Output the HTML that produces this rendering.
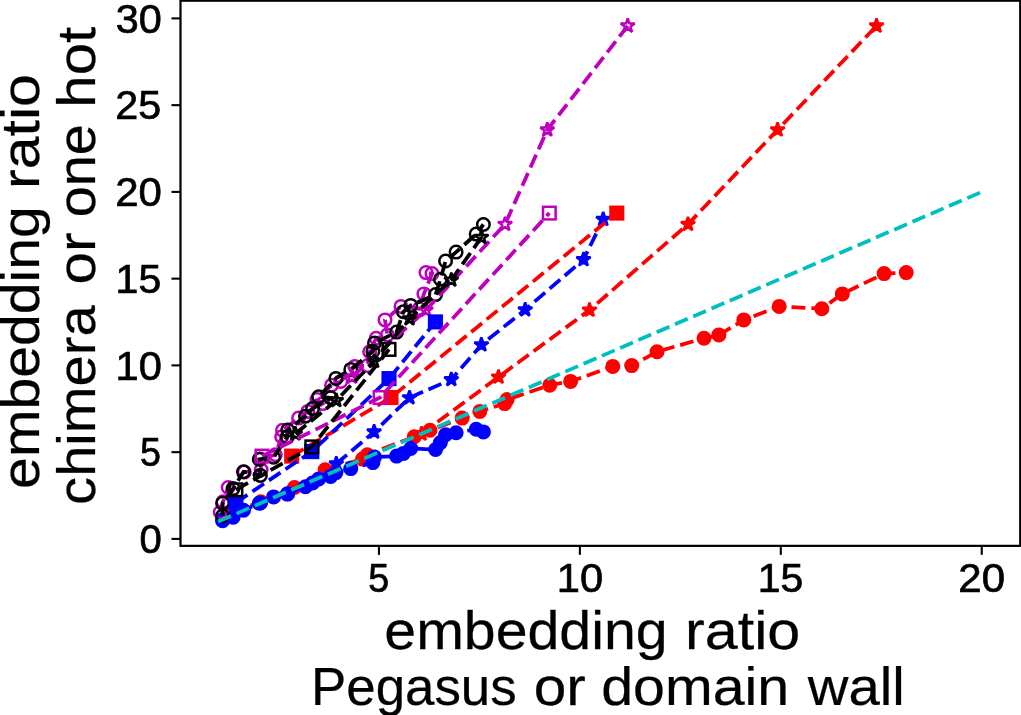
<!DOCTYPE html>
<html><head><meta charset="utf-8"><title>embedding ratio</title>
<style>
html,body{margin:0;padding:0;background:#fff;}
svg{display:block;}
text{font-family:"Liberation Sans",sans-serif;fill:#000;stroke:#000;}
</style></head>
<body>
<svg width="1021" height="715" viewBox="0 0 1021 715">
<defs><clipPath id="cp"><rect x="180.5" y="0.7" width="839.7" height="545.15"/></clipPath></defs>
<rect width="1021" height="715" fill="#fff"/>
<g clip-path="url(#cp)">
<path d="M231.9 512.2 L260.8 501.8 L294.5 487.5 L333.5 472.1 L325.1 469.8 L362.5 459.1 L367.3 454.8 L414.3 436.7 L430.0 430.3 L462.1 418.1 L479.8 411.4 L504.7 403.6 L507.1 399.6 L549.7 385.2 L570.6 381.4 L612.8 366.4 L631.7 365.6 L657.0 351.7 L704.0 338.3 L718.9 334.9 L743.8 319.9 L779.2 306.4 L821.8 308.7 L842.3 293.9 L884.1 273.6 L906.2 272.6" fill="none" stroke="#ff0000" stroke-width="3.76" stroke-dasharray="13.9 6.0"/>
<g fill="#ff0000" stroke="#ff0000" stroke-width="2.5"><circle cx="231.9" cy="512.2" r="6.25"/><circle cx="260.8" cy="501.8" r="6.25"/><circle cx="294.5" cy="487.5" r="6.25"/><circle cx="333.5" cy="472.1" r="6.25"/><circle cx="325.1" cy="469.8" r="6.25"/><circle cx="362.5" cy="459.1" r="6.25"/><circle cx="367.3" cy="454.8" r="6.25"/><circle cx="414.3" cy="436.7" r="6.25"/><circle cx="430.0" cy="430.3" r="6.25"/><circle cx="462.1" cy="418.1" r="6.25"/><circle cx="479.8" cy="411.4" r="6.25"/><circle cx="504.7" cy="403.6" r="6.25"/><circle cx="507.1" cy="399.6" r="6.25"/><circle cx="549.7" cy="385.2" r="6.25"/><circle cx="570.6" cy="381.4" r="6.25"/><circle cx="612.8" cy="366.4" r="6.25"/><circle cx="631.7" cy="365.6" r="6.25"/><circle cx="657.0" cy="351.7" r="6.25"/><circle cx="704.0" cy="338.3" r="6.25"/><circle cx="718.9" cy="334.9" r="6.25"/><circle cx="743.8" cy="319.9" r="6.25"/><circle cx="779.2" cy="306.4" r="6.25"/><circle cx="821.8" cy="308.7" r="6.25"/><circle cx="842.3" cy="293.9" r="6.25"/><circle cx="884.1" cy="273.6" r="6.25"/><circle cx="906.2" cy="272.6" r="6.25"/></g>
<path d="M222.6 520.7 L222.6 519.5 L233.1 517.2 L243.5 510.3 L260.4 503.0 L259.2 503.3 L273.6 496.9 L287.3 494.1 L287.7 493.8 L305.4 486.8 L312.6 482.9 L330.7 476.4 L318.7 478.9 L335.9 472.6 L350.8 468.6 L372.9 462.6 L374.5 457.0 L396.6 456.1 L403.4 453.4 L410.7 448.5 L435.6 449.5 L440.4 442.6 L445.6 434.8 L456.1 432.7 L476.2 429.2 L483.4 431.9" fill="none" stroke="#0000ff" stroke-width="3.76" stroke-dasharray="13.9 6.0"/>
<g fill="#0000ff" stroke="#0000ff" stroke-width="2.5"><circle cx="222.6" cy="520.7" r="6.25"/><circle cx="222.6" cy="519.5" r="6.25"/><circle cx="233.1" cy="517.2" r="6.25"/><circle cx="243.5" cy="510.3" r="6.25"/><circle cx="260.4" cy="503.0" r="6.25"/><circle cx="259.2" cy="503.3" r="6.25"/><circle cx="273.6" cy="496.9" r="6.25"/><circle cx="287.3" cy="494.1" r="6.25"/><circle cx="287.7" cy="493.8" r="6.25"/><circle cx="305.4" cy="486.8" r="6.25"/><circle cx="312.6" cy="482.9" r="6.25"/><circle cx="330.7" cy="476.4" r="6.25"/><circle cx="318.7" cy="478.9" r="6.25"/><circle cx="335.9" cy="472.6" r="6.25"/><circle cx="350.8" cy="468.6" r="6.25"/><circle cx="372.9" cy="462.6" r="6.25"/><circle cx="374.5" cy="457.0" r="6.25"/><circle cx="396.6" cy="456.1" r="6.25"/><circle cx="403.4" cy="453.4" r="6.25"/><circle cx="410.7" cy="448.5" r="6.25"/><circle cx="435.6" cy="449.5" r="6.25"/><circle cx="440.4" cy="442.6" r="6.25"/><circle cx="445.6" cy="434.8" r="6.25"/><circle cx="456.1" cy="432.7" r="6.25"/><circle cx="476.2" cy="429.2" r="6.25"/><circle cx="483.4" cy="431.9" r="6.25"/></g>
<path d="M220.2 512.2 L223.0 501.8 L228.2 487.5 L244.3 472.1 L261.2 469.8 L260.4 459.1 L275.3 454.8 L281.7 436.7 L282.5 430.3 L298.6 418.1 L307.8 411.4 L322.7 403.6 L317.0 399.6 L331.5 385.2 L340.8 381.4 L354.8 366.4 L367.7 365.6 L369.7 351.7 L376.1 338.3 L387.4 334.9 L385.0 319.9 L401.0 306.4 L419.1 308.7 L423.9 293.9 L432.0 273.6 L426.0 272.6" fill="none" stroke="#bf00bf" stroke-width="3.76" stroke-dasharray="13.9 6.0"/>
<g fill="none" stroke="#bf00bf" stroke-width="2.5"><circle cx="220.2" cy="512.2" r="6.25"/><circle cx="223.0" cy="501.8" r="6.25"/><circle cx="228.2" cy="487.5" r="6.25"/><circle cx="244.3" cy="472.1" r="6.25"/><circle cx="261.2" cy="469.8" r="6.25"/><circle cx="260.4" cy="459.1" r="6.25"/><circle cx="275.3" cy="454.8" r="6.25"/><circle cx="281.7" cy="436.7" r="6.25"/><circle cx="282.5" cy="430.3" r="6.25"/><circle cx="298.6" cy="418.1" r="6.25"/><circle cx="307.8" cy="411.4" r="6.25"/><circle cx="322.7" cy="403.6" r="6.25"/><circle cx="317.0" cy="399.6" r="6.25"/><circle cx="331.5" cy="385.2" r="6.25"/><circle cx="340.8" cy="381.4" r="6.25"/><circle cx="354.8" cy="366.4" r="6.25"/><circle cx="367.7" cy="365.6" r="6.25"/><circle cx="369.7" cy="351.7" r="6.25"/><circle cx="376.1" cy="338.3" r="6.25"/><circle cx="387.4" cy="334.9" r="6.25"/><circle cx="385.0" cy="319.9" r="6.25"/><circle cx="401.0" cy="306.4" r="6.25"/><circle cx="419.1" cy="308.7" r="6.25"/><circle cx="423.9" cy="293.9" r="6.25"/><circle cx="432.0" cy="273.6" r="6.25"/><circle cx="426.0" cy="272.6" r="6.25"/></g>
<path d="M222.6 515.7 L222.6 503.2 L233.1 488.6 L243.5 471.8 L260.4 475.4 L259.2 459.3 L273.6 457.2 L287.3 436.9 L287.7 430.1 L305.4 416.2 L312.6 408.6 L330.7 397.8 L318.7 396.8 L335.9 378.4 L350.8 369.4 L372.9 351.2 L374.5 343.0 L396.6 332.1 L403.4 311.8 L410.7 305.4 L435.6 294.6 L440.4 279.3 L445.6 261.0 L456.1 252.1 L476.2 234.1 L483.4 224.5" fill="none" stroke="#000000" stroke-width="3.76" stroke-dasharray="13.9 6.0"/>
<g fill="none" stroke="#000000" stroke-width="2.5"><circle cx="222.6" cy="515.7" r="6.25"/><circle cx="222.6" cy="503.2" r="6.25"/><circle cx="233.1" cy="488.6" r="6.25"/><circle cx="243.5" cy="471.8" r="6.25"/><circle cx="260.4" cy="475.4" r="6.25"/><circle cx="259.2" cy="459.3" r="6.25"/><circle cx="273.6" cy="457.2" r="6.25"/><circle cx="287.3" cy="436.9" r="6.25"/><circle cx="287.7" cy="430.1" r="6.25"/><circle cx="305.4" cy="416.2" r="6.25"/><circle cx="312.6" cy="408.6" r="6.25"/><circle cx="330.7" cy="397.8" r="6.25"/><circle cx="318.7" cy="396.8" r="6.25"/><circle cx="335.9" cy="378.4" r="6.25"/><circle cx="350.8" cy="369.4" r="6.25"/><circle cx="372.9" cy="351.2" r="6.25"/><circle cx="374.5" cy="343.0" r="6.25"/><circle cx="396.6" cy="332.1" r="6.25"/><circle cx="403.4" cy="311.8" r="6.25"/><circle cx="410.7" cy="305.4" r="6.25"/><circle cx="435.6" cy="294.6" r="6.25"/><circle cx="440.4" cy="279.3" r="6.25"/><circle cx="445.6" cy="261.0" r="6.25"/><circle cx="456.1" cy="252.1" r="6.25"/><circle cx="476.2" cy="234.1" r="6.25"/><circle cx="483.4" cy="224.5" r="6.25"/></g>
<path d="M421.5 433.9 L498.5 377.0 L589.5 310.1 L688.0 224.2 L777.6 129.8 L876.5 25.9" fill="none" stroke="#ff0000" stroke-width="3.76" stroke-dasharray="13.9 6.0"/>
<g fill="#ff0000" stroke="#ff0000" stroke-width="2.5"><path transform="translate(421.5 433.9)" d="M0.00 -7.40 L-1.66 -2.29 L-7.04 -2.29 L-2.69 0.87 L-4.35 5.99 L-0.00 2.83 L4.35 5.99 L2.69 0.87 L7.04 -2.29 L1.66 -2.29Z" stroke-linejoin="bevel"/><path transform="translate(498.5 377.0)" d="M0.00 -7.40 L-1.66 -2.29 L-7.04 -2.29 L-2.69 0.87 L-4.35 5.99 L-0.00 2.83 L4.35 5.99 L2.69 0.87 L7.04 -2.29 L1.66 -2.29Z" stroke-linejoin="bevel"/><path transform="translate(589.5 310.1)" d="M0.00 -7.40 L-1.66 -2.29 L-7.04 -2.29 L-2.69 0.87 L-4.35 5.99 L-0.00 2.83 L4.35 5.99 L2.69 0.87 L7.04 -2.29 L1.66 -2.29Z" stroke-linejoin="bevel"/><path transform="translate(688.0 224.2)" d="M0.00 -7.40 L-1.66 -2.29 L-7.04 -2.29 L-2.69 0.87 L-4.35 5.99 L-0.00 2.83 L4.35 5.99 L2.69 0.87 L7.04 -2.29 L1.66 -2.29Z" stroke-linejoin="bevel"/><path transform="translate(777.6 129.8)" d="M0.00 -7.40 L-1.66 -2.29 L-7.04 -2.29 L-2.69 0.87 L-4.35 5.99 L-0.00 2.83 L4.35 5.99 L2.69 0.87 L7.04 -2.29 L1.66 -2.29Z" stroke-linejoin="bevel"/><path transform="translate(876.5 25.9)" d="M0.00 -7.40 L-1.66 -2.29 L-7.04 -2.29 L-2.69 0.87 L-4.35 5.99 L-0.00 2.83 L4.35 5.99 L2.69 0.87 L7.04 -2.29 L1.66 -2.29Z" stroke-linejoin="bevel"/></g>
<path d="M336.3 463.8 L374.1 431.9 L409.5 397.7 L451.3 379.5 L481.4 344.8 L525.2 309.7 L583.5 259.6 L603.2 219.3" fill="none" stroke="#0000ff" stroke-width="3.76" stroke-dasharray="13.9 6.0"/>
<g fill="#0000ff" stroke="#0000ff" stroke-width="2.5"><path transform="translate(336.3 463.8)" d="M0.00 -7.40 L-1.66 -2.29 L-7.04 -2.29 L-2.69 0.87 L-4.35 5.99 L-0.00 2.83 L4.35 5.99 L2.69 0.87 L7.04 -2.29 L1.66 -2.29Z" stroke-linejoin="bevel"/><path transform="translate(374.1 431.9)" d="M0.00 -7.40 L-1.66 -2.29 L-7.04 -2.29 L-2.69 0.87 L-4.35 5.99 L-0.00 2.83 L4.35 5.99 L2.69 0.87 L7.04 -2.29 L1.66 -2.29Z" stroke-linejoin="bevel"/><path transform="translate(409.5 397.7)" d="M0.00 -7.40 L-1.66 -2.29 L-7.04 -2.29 L-2.69 0.87 L-4.35 5.99 L-0.00 2.83 L4.35 5.99 L2.69 0.87 L7.04 -2.29 L1.66 -2.29Z" stroke-linejoin="bevel"/><path transform="translate(451.3 379.5)" d="M0.00 -7.40 L-1.66 -2.29 L-7.04 -2.29 L-2.69 0.87 L-4.35 5.99 L-0.00 2.83 L4.35 5.99 L2.69 0.87 L7.04 -2.29 L1.66 -2.29Z" stroke-linejoin="bevel"/><path transform="translate(481.4 344.8)" d="M0.00 -7.40 L-1.66 -2.29 L-7.04 -2.29 L-2.69 0.87 L-4.35 5.99 L-0.00 2.83 L4.35 5.99 L2.69 0.87 L7.04 -2.29 L1.66 -2.29Z" stroke-linejoin="bevel"/><path transform="translate(525.2 309.7)" d="M0.00 -7.40 L-1.66 -2.29 L-7.04 -2.29 L-2.69 0.87 L-4.35 5.99 L-0.00 2.83 L4.35 5.99 L2.69 0.87 L7.04 -2.29 L1.66 -2.29Z" stroke-linejoin="bevel"/><path transform="translate(583.5 259.6)" d="M0.00 -7.40 L-1.66 -2.29 L-7.04 -2.29 L-2.69 0.87 L-4.35 5.99 L-0.00 2.83 L4.35 5.99 L2.69 0.87 L7.04 -2.29 L1.66 -2.29Z" stroke-linejoin="bevel"/><path transform="translate(603.2 219.3)" d="M0.00 -7.40 L-1.66 -2.29 L-7.04 -2.29 L-2.69 0.87 L-4.35 5.99 L-0.00 2.83 L4.35 5.99 L2.69 0.87 L7.04 -2.29 L1.66 -2.29Z" stroke-linejoin="bevel"/></g>
<path d="M352.0 377.0 L426.0 310.1 L505.1 224.2 L547.3 129.8 L627.7 25.9" fill="none" stroke="#bf00bf" stroke-width="3.76" stroke-dasharray="13.9 6.0"/>
<g fill="none" stroke="#bf00bf" stroke-width="2.5"><path transform="translate(352.0 377.0)" d="M0.00 -7.40 L-1.66 -2.29 L-7.04 -2.29 L-2.69 0.87 L-4.35 5.99 L-0.00 2.83 L4.35 5.99 L2.69 0.87 L7.04 -2.29 L1.66 -2.29Z" stroke-linejoin="bevel"/><path transform="translate(426.0 310.1)" d="M0.00 -7.40 L-1.66 -2.29 L-7.04 -2.29 L-2.69 0.87 L-4.35 5.99 L-0.00 2.83 L4.35 5.99 L2.69 0.87 L7.04 -2.29 L1.66 -2.29Z" stroke-linejoin="bevel"/><path transform="translate(505.1 224.2)" d="M0.00 -7.40 L-1.66 -2.29 L-7.04 -2.29 L-2.69 0.87 L-4.35 5.99 L-0.00 2.83 L4.35 5.99 L2.69 0.87 L7.04 -2.29 L1.66 -2.29Z" stroke-linejoin="bevel"/><path transform="translate(547.3 129.8)" d="M0.00 -7.40 L-1.66 -2.29 L-7.04 -2.29 L-2.69 0.87 L-4.35 5.99 L-0.00 2.83 L4.35 5.99 L2.69 0.87 L7.04 -2.29 L1.66 -2.29Z" stroke-linejoin="bevel"/><path transform="translate(627.7 25.9)" d="M0.00 -7.40 L-1.66 -2.29 L-7.04 -2.29 L-2.69 0.87 L-4.35 5.99 L-0.00 2.83 L4.35 5.99 L2.69 0.87 L7.04 -2.29 L1.66 -2.29Z" stroke-linejoin="bevel"/></g>
<path d="M295.3 433.8 L336.3 400.5 L374.1 361.2 L409.5 318.7 L451.3 280.0 L481.4 237.4" fill="none" stroke="#000000" stroke-width="3.76" stroke-dasharray="13.9 6.0"/>
<g fill="none" stroke="#000000" stroke-width="2.5"><path transform="translate(295.3 433.8)" d="M0.00 -7.40 L-1.66 -2.29 L-7.04 -2.29 L-2.69 0.87 L-4.35 5.99 L-0.00 2.83 L4.35 5.99 L2.69 0.87 L7.04 -2.29 L1.66 -2.29Z" stroke-linejoin="bevel"/><path transform="translate(336.3 400.5)" d="M0.00 -7.40 L-1.66 -2.29 L-7.04 -2.29 L-2.69 0.87 L-4.35 5.99 L-0.00 2.83 L4.35 5.99 L2.69 0.87 L7.04 -2.29 L1.66 -2.29Z" stroke-linejoin="bevel"/><path transform="translate(374.1 361.2)" d="M0.00 -7.40 L-1.66 -2.29 L-7.04 -2.29 L-2.69 0.87 L-4.35 5.99 L-0.00 2.83 L4.35 5.99 L2.69 0.87 L7.04 -2.29 L1.66 -2.29Z" stroke-linejoin="bevel"/><path transform="translate(409.5 318.7)" d="M0.00 -7.40 L-1.66 -2.29 L-7.04 -2.29 L-2.69 0.87 L-4.35 5.99 L-0.00 2.83 L4.35 5.99 L2.69 0.87 L7.04 -2.29 L1.66 -2.29Z" stroke-linejoin="bevel"/><path transform="translate(451.3 280.0)" d="M0.00 -7.40 L-1.66 -2.29 L-7.04 -2.29 L-2.69 0.87 L-4.35 5.99 L-0.00 2.83 L4.35 5.99 L2.69 0.87 L7.04 -2.29 L1.66 -2.29Z" stroke-linejoin="bevel"/><path transform="translate(481.4 237.4)" d="M0.00 -7.40 L-1.66 -2.29 L-7.04 -2.29 L-2.69 0.87 L-4.35 5.99 L-0.00 2.83 L4.35 5.99 L2.69 0.87 L7.04 -2.29 L1.66 -2.29Z" stroke-linejoin="bevel"/></g>
<path d="M291.7 456.1 L391.0 397.5 L616.8 213.1" fill="none" stroke="#ff0000" stroke-width="3.76" stroke-dasharray="13.9 6.0"/>
<g fill="#ff0000" stroke="#ff0000" stroke-width="2.5"><rect x="285.4" y="449.8" width="12.6" height="12.6"/><rect x="384.7" y="391.2" width="12.6" height="12.6"/><rect x="610.5" y="206.8" width="12.6" height="12.6"/></g>
<path d="M235.9 502.6 L311.8 451.6 L389.0 378.6 L435.4 321.9" fill="none" stroke="#0000ff" stroke-width="3.76" stroke-dasharray="13.9 6.0"/>
<g fill="#0000ff" stroke="#0000ff" stroke-width="2.5"><rect x="229.6" y="496.3" width="12.6" height="12.6"/><rect x="305.5" y="445.3" width="12.6" height="12.6"/><rect x="382.7" y="372.3" width="12.6" height="12.6"/><rect x="429.1" y="315.6" width="12.6" height="12.6"/></g>
<path d="M262.0 456.1 L380.1 397.5 L549.3 213.1" fill="none" stroke="#bf00bf" stroke-width="3.76" stroke-dasharray="13.9 6.0"/>
<g fill="none" stroke="#bf00bf" stroke-width="2.5"><rect x="255.7" y="449.8" width="12.6" height="12.6"/><rect x="373.8" y="391.2" width="12.6" height="12.6"/><rect x="543.0" y="206.8" width="12.6" height="12.6"/></g>
<path d="M235.9 489.8 L311.8 446.9 L389.0 349.4" fill="none" stroke="#000000" stroke-width="3.76" stroke-dasharray="13.9 6.0"/>
<g fill="none" stroke="#000000" stroke-width="2.5"><rect x="229.6" y="483.5" width="12.6" height="12.6"/><rect x="305.5" y="440.6" width="12.6" height="12.6"/><rect x="382.7" y="343.1" width="12.6" height="12.6"/></g>
<path d="M218.2 521.5 L981.7 191.9" fill="none" stroke="#00bfbf" stroke-width="3.76" stroke-dasharray="13.9 6.0"/>
</g>
<g>
<rect x="180.5" y="0.7" width="839.7" height="545.15" fill="none" stroke="#000" stroke-width="2.2"/>
<line x1="378.94" y1="545.85" x2="378.94" y2="554.85" stroke="#000" stroke-width="2.1"/>
<line x1="579.87" y1="545.85" x2="579.87" y2="554.85" stroke="#000" stroke-width="2.1"/>
<line x1="780.80" y1="545.85" x2="780.80" y2="554.85" stroke="#000" stroke-width="2.1"/>
<line x1="981.74" y1="545.85" x2="981.74" y2="554.85" stroke="#000" stroke-width="2.1"/>
<line x1="180.5" y1="538.90" x2="171.5" y2="538.90" stroke="#000" stroke-width="2.1"/>
<line x1="180.5" y1="452.15" x2="171.5" y2="452.15" stroke="#000" stroke-width="2.1"/>
<line x1="180.5" y1="365.40" x2="171.5" y2="365.40" stroke="#000" stroke-width="2.1"/>
<line x1="180.5" y1="278.65" x2="171.5" y2="278.65" stroke="#000" stroke-width="2.1"/>
<line x1="180.5" y1="191.90" x2="171.5" y2="191.90" stroke="#000" stroke-width="2.1"/>
<line x1="180.5" y1="105.15" x2="171.5" y2="105.15" stroke="#000" stroke-width="2.1"/>
<line x1="180.5" y1="18.40" x2="171.5" y2="18.40" stroke="#000" stroke-width="2.1"/>
</g>
<g opacity="0.999">
<text transform="translate(368.33 592.40) scale(0.9436 1)" font-size="40.0" stroke-width="0.7">5</text>
<text transform="translate(556.79 592.40) scale(1.0407 1)" font-size="40.0" stroke-width="0.7">10</text>
<text transform="translate(757.77 592.40) scale(1.0251 1)" font-size="40.0" stroke-width="0.7">15</text>
<text transform="translate(958.33 592.40) scale(1.0482 1)" font-size="40.0" stroke-width="0.7">20</text>
<text transform="translate(139.50 553.10) scale(1.0014 1)" font-size="40.0" stroke-width="0.7">0</text>
<text transform="translate(140.07 466.35) scale(0.9436 1)" font-size="40.0" stroke-width="0.7">5</text>
<text transform="translate(115.57 379.60) scale(1.0407 1)" font-size="40.0" stroke-width="0.7">10</text>
<text transform="translate(115.62 292.85) scale(1.0251 1)" font-size="40.0" stroke-width="0.7">15</text>
<text transform="translate(115.24 206.10) scale(1.0482 1)" font-size="40.0" stroke-width="0.7">20</text>
<text transform="translate(115.27 119.35) scale(1.0330 1)" font-size="40.0" stroke-width="0.7">25</text>
<text transform="translate(115.78 32.60) scale(1.0356 1)" font-size="40.0" stroke-width="0.7">30</text>
<text transform="translate(384.32 648.50) scale(1.0806 1)" font-size="53.0" stroke-width="0.25">embedding</text>
<text transform="translate(685.06 648.50) scale(1.1176 1)" font-size="53.0" stroke-width="0.25">ratio</text>
<text transform="translate(310.99 704.80) scale(0.9976 1)" font-size="53.0" stroke-width="0.25">Pegasus</text>
<text transform="translate(533.66 704.80) scale(1.1052 1)" font-size="53.0" stroke-width="0.25">or</text>
<text transform="translate(601.23 704.80) scale(1.0811 1)" font-size="53.0" stroke-width="0.25">domain</text>
<text transform="translate(807.77 704.80) scale(1.0630 1)" font-size="53.0" stroke-width="0.25">wall</text>
<text transform="translate(38.70 488.88) rotate(-90) scale(1.0777 1)" font-size="53.0" stroke-width="0.25">embedding</text>
<text transform="translate(38.70 188.93) rotate(-90) scale(1.1146 1)" font-size="53.0" stroke-width="0.25">ratio</text>
<text transform="translate(94.60 504.93) rotate(-90) scale(1.0593 1)" font-size="53.0" stroke-width="0.25">chimera</text>
<text transform="translate(94.60 284.58) rotate(-90) scale(1.1039 1)" font-size="53.0" stroke-width="0.25">or</text>
<text transform="translate(94.60 217.20) rotate(-90) scale(1.0519 1)" font-size="53.0" stroke-width="0.25">one</text>
<text transform="translate(94.60 107.69) rotate(-90) scale(1.0978 1)" font-size="53.0" stroke-width="0.25">hot</text>
</g>
</svg>
</body></html>
